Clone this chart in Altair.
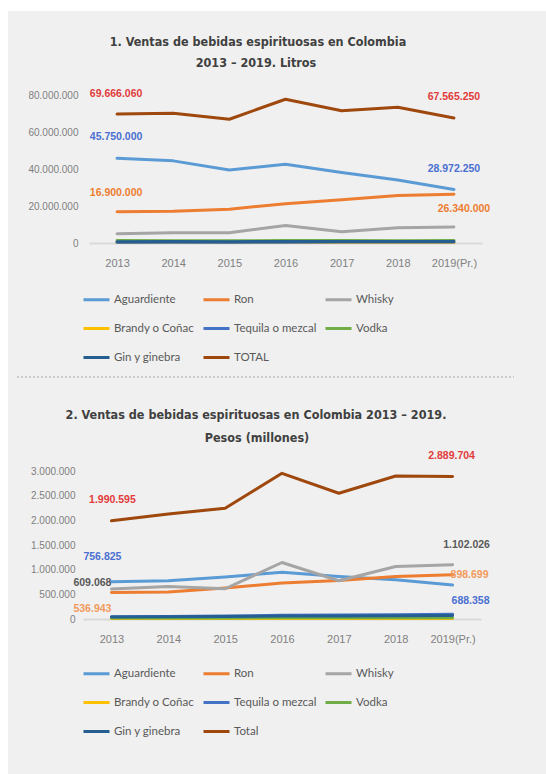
import altair as alt
import pandas as pd

# ---------------------------------------------------------------------------
# Data
# ---------------------------------------------------------------------------
years = ["2013", "2014", "2015", "2016", "2017", "2018", "2019(Pr.)"]

series_litros = ["Aguardiente", "Ron", "Whisky", "Brandy o Coñac",
                 "Tequila o mezcal", "Vodka", "Gin y ginebra", "TOTAL"]
series_pesos = ["Aguardiente", "Ron", "Whisky", "Brandy o Coñac",
                "Tequila o mezcal", "Vodka", "Gin y ginebra", "Total"]
palette = ["#5b9bd5", "#ed7d31", "#a5a5a5", "#ffc000",
           "#4472c4", "#70ad47", "#255e91", "#9e480e"]

# 1. Litros
aguardiente_l = [45750000, 44400000, 39500000, 42600000, 38100000, 34100000, 28972250]
ron_l = [16900000, 17200000, 18300000, 21200000, 23400000, 25700000, 26340000]
whisky_l = [5000000, 5600000, 5600000, 9500000, 6100000, 8300000, 8600000]
brandy_l = [250000, 260000, 240000, 270000, 250000, 260000, 250000]
tequila_l = [350000, 380000, 400000, 450000, 480000, 520000, 550000]
vodka_l = [1300000, 1250000, 1200000, 1350000, 1300000, 1250000, 1300000]
gin_l = [700000, 750000, 700000, 800000, 750000, 800000, 850000]
total_l = [69666060, 70100000, 66900000, 77700000, 71500000, 73400000, 67565250]

# 2. Pesos (millones)
aguardiente_p = [756825, 775000, 850000, 950000, 862000, 795000, 688358]
ron_p = [536943, 548000, 627000, 728000, 781000, 862000, 898699]
whisky_p = [609068, 660000, 613000, 1145000, 775000, 1064000, 1102026]
brandy_p = [8000, 9000, 8500, 10000, 9500, 10000, 11000]
tequila_p = [45000, 52000, 60000, 75000, 80000, 88000, 95000]
vodka_p = [20000, 22000, 21000, 25000, 24000, 26000, 27000]
gin_p = [40000, 45000, 50000, 60000, 62000, 65000, 70000]
total_p = [1990595, 2130000, 2245000, 2953000, 2549000, 2899000, 2889704]

litros_arrays = [aguardiente_l, ron_l, whisky_l, brandy_l,
                 tequila_l, vodka_l, gin_l, total_l]
pesos_arrays = [aguardiente_p, ron_p, whisky_p, brandy_p,
                tequila_p, vodka_p, gin_p, total_p]

y_ticks_litros = [0, 20000000, 40000000, 60000000, 80000000]
y_ticks_pesos = [0, 500000, 1000000, 1500000, 2000000, 2500000, 3000000]

title_litros = ["1. Ventas de bebidas espirituosas en Colombia",
                "2013 – 2019. Litros"]
title_pesos = ["2. Ventas de bebidas espirituosas en Colombia 2013 – 2019.",
               "Pesos (millones)"]

# ---------------------------------------------------------------------------
# Styling
# ---------------------------------------------------------------------------
PANEL = "#f0f0f0"
TITLE_FONT = "DejaVu Sans Condensed, sans-serif"
LABEL_FONT = "Liberation Sans, Arial, sans-serif"
PLAIN = "Liberation Sans, Arial, sans-serif"
LEGEND_FONT = "Lato, Noto Sans, sans-serif"
AXIS_GREY = "#7f7f7f"
RED = "#e23b3b"
BLUE = "#4a6fd0"
ORANGE = "#ed7d31"
LIGHT_ORANGE = "#f29a5c"
DARK_GREY = "#595959"

# annotations: (series index, year index, dx, dy, colour)
labels_litros = [
    (7, 0, -1, -20, RED), (7, 6, 0, -21, RED),
    (0, 0, -1, -21, BLUE), (0, 6, 0, -20, BLUE),
    (1, 0, -1, -19, ORANGE), (1, 6, 10, 15, ORANGE),
]
labels_pesos = [
    (7, 0, 1, -21, RED), (7, 6, -1, -20, RED),
    (0, 0, -9, -25, BLUE), (0, 6, 18, 16, BLUE),
    (2, 0, -19, -6, DARK_GREY), (2, 6, 14, -20, DARK_GREY),
    (1, 0, -19, 16, LIGHT_ORANGE), (1, 6, 17, 0, LIGHT_ORANGE),
]


def long_table(names, arrays):
    rows = []
    for name, vals in zip(names, arrays):
        for yr, v in zip(years, vals):
            rows.append({"year": yr, "series": name, "value": v})
    return pd.DataFrame(rows)


def one_row():
    return pd.DataFrame({"k": [0]})


def heading(lines, spots):
    """Two-line panel heading drawn as text inside the panel."""
    out = []
    for text, (px, py) in zip(lines, spots):
        out.append(
            alt.Chart(one_row()).mark_text(
                font=TITLE_FONT, fontSize=12.5, fontWeight="bold",
                color="#404040", align="center", baseline="middle",
            ).encode(x=alt.value(px), y=alt.value(py), text=alt.value(text))
        )
    return out


def panel(names, arrays, labels, width, x_range, y_max, y_ticks, y_pad,
          legend_x, legend_y, decor):
    x_scale = alt.Scale(type="point", domain=years, padding=0.5)
    if x_range is not None:
        x_scale = alt.Scale(type="point", domain=years, padding=0.5, range=x_range)
    x_enc = alt.X(
        "year:N", scale=x_scale,
        axis=alt.Axis(title=None, labelAngle=0, ticks=False, tickSize=0,
                      domainColor="#d9d9d9", domainWidth=2, grid=False,
                      labelFont=PLAIN, labelFontSize=11, labelColor=AXIS_GREY,
                      labelPadding=14),
    )
    y_enc = alt.Y(
        "value:Q", scale=alt.Scale(domain=[0, y_max], nice=False, zero=True),
        axis=alt.Axis(title=None, values=y_ticks, format=",d", domain=False,
                      ticks=False, tickSize=0, grid=False, labelFont=PLAIN,
                      labelFontSize=10, labelColor=AXIS_GREY, labelPadding=y_pad),
    )

    lines = alt.Chart(long_table(names, arrays)).mark_line(
        strokeWidth=3, strokeCap="round", strokeJoin="round"
    ).encode(
        x=x_enc,
        y=y_enc,
        color=alt.Color(
            "series:N", sort=names,
            scale=alt.Scale(domain=names, range=palette),
            legend=alt.Legend(
                title=None, orient="none", legendX=legend_x, legendY=legend_y,
                direction="horizontal", columns=3, symbolType="stroke",
                symbolSize=676, symbolStrokeWidth=3, labelFont=LEGEND_FONT,
                labelFontSize=11.5, labelColor=DARK_GREY, labelOffset=3,
                columnPadding=2, rowPadding=8, padding=0,
            ),
        ),
        order=alt.Order("series_order:Q"),
    ).transform_calculate(
        series_order="indexof(" + str(names) + ", datum.series)"
    )

    layers = list(decor) + [lines]
    for si, yi, dx, dy, col in labels:
        row = pd.DataFrame({"year": [years[yi]], "series": [names[si]],
                            "value": [arrays[si][yi]]})
        layers.append(
            alt.Chart(row).mark_text(
                font=LABEL_FONT, fontSize=10.5, fontWeight="bold", color=col,
                align="center", baseline="middle", dx=dx, dy=dy,
            ).encode(x=x_enc, y=y_enc, text=alt.Text("value:Q", format=",d"))
        )

    return alt.layer(*layers).properties(width=width, height=148)


# panel backdrop pieces (white page margins and the dotted divider)
top_margin = alt.Chart(one_row()).mark_rect(color="#ffffff").encode(
    x=alt.value(-83), x2=alt.value(463), y=alt.value(-95), y2=alt.value(-84))
left_margin_1 = alt.Chart(one_row()).mark_rect(color="#ffffff").encode(
    x=alt.value(-83), x2=alt.value(-75), y=alt.value(-95), y2=alt.value(295))
divider = alt.Chart(one_row()).mark_rule(
    color="#bdbdbd", strokeWidth=1.5, strokeDash=[2, 2]
).encode(x=alt.value(-66), x2=alt.value(431), y=alt.value(282))
left_margin_2 = alt.Chart(one_row()).mark_rect(color="#ffffff").encode(
    x=alt.value(-83), x2=alt.value(-75), y=alt.value(-81), y2=alt.value(303))

chart1 = panel(
    series_litros, litros_arrays, labels_litros,
    width=399, x_range=[6, 399], y_max=80000000, y_ticks=y_ticks_litros,
    y_pad=5, legend_x=-1, legend_y=190,
    decor=[top_margin, left_margin_1, divider]
    + heading(title_litros, [(175, -53), (173, -32)]),
)

chart2 = panel(
    series_pesos, pesos_arrays, labels_pesos,
    width=398, x_range=None, y_max=3000000, y_ticks=y_ticks_pesos,
    y_pad=8, legend_x=-1, legend_y=188,
    decor=[left_margin_2] + heading(title_pesos, [(173, -56), (174, -33)]),
)

chart = alt.vconcat(chart1, chart2, spacing=0).resolve_scale(
    color="independent", x="independent", y="independent"
).resolve_legend(color="independent").configure(
    background=PANEL, padding=0,
    locale={"number": {"decimal": ",", "thousands": ".", "grouping": [3],
                       "currency": ["$", ""]}},
).configure_view(strokeWidth=0)

chart.save("out.html", embed_options={"renderer": "svg", "actions": False})
